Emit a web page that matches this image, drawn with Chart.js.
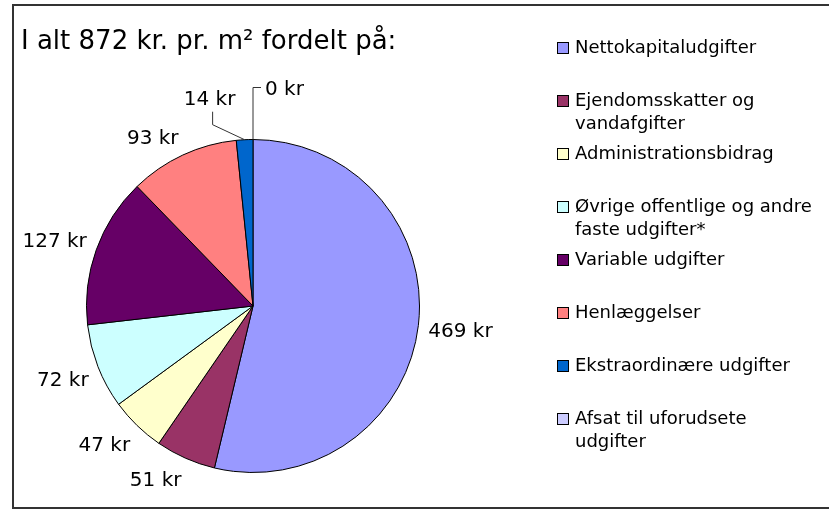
<html>
<head>
<title>Udgifter pr. m2</title>
<script src="https://cdn.jsdelivr.net/npm/chart.js@4.4.1/dist/chart.umd.min.js"></script>
<style>
  body { margin: 0; background: #fff; }
  #wrap { position: relative; width: 829px; height: 512px; }
</style>
</head>
<body>
<div id="wrap"><canvas id="myChart"></canvas></div>
<script>
// data
var titleText = 'I alt 872 kr. pr. m\u00b2 fordelt p\u00e5:';
var categories = [
    'Nettokapitaludgifter',
    ['Ejendomsskatter og', 'vandafgifter'],
    'Administrationsbidrag',
    ['\u00d8vrige offentlige og andre', 'faste udgifter*'],
    'Variable udgifter',
    'Henl\u00e6ggelser',
    'Ekstraordin\u00e6re udgifter',
    ['Afsat til uforudsete', 'udgifter']
];
var values = [469, 51, 47, 72, 127, 93, 14, 0];
var colors = ['#9999FF', '#993366', '#FFFFCC', '#CCFFFF', '#660066', '#FF8080', '#0066CC', '#CCCCFF'];
var unit = ' kr';

var FONT = '"DejaVu Sans", Verdana, sans-serif';

function clamp(t) { return Math.max(-1, Math.min(1, t)); }

// frame, title, legend and value labels
var decor = {
    id: 'decor',
    afterDraw: function(chart, args, opts) {
        var c = chart.ctx;
        c.save();

        // frame (right edge runs off the picture)
        c.strokeStyle = '#333';
        c.lineWidth = 2;
        c.strokeRect(13, 5, 830, 503);

        // title
        c.fillStyle = '#000';
        c.font = '26px ' + FONT;
        c.textBaseline = 'alphabetic';
        c.textAlign = 'left';
        c.fillText(titleText, 21, 49);

        // legend
        c.font = '18px ' + FONT;
        c.textBaseline = 'middle';
        var lx = 557, ly = 48, step = 53;
        for (var i = 0; i < categories.length; i++) {
            var y = Math.round(ly + i * step);
            c.fillStyle = colors[i];
            c.fillRect(lx, y - 6, 12, 12);
            c.strokeStyle = '#000';
            c.lineWidth = 1;
            c.strokeRect(lx + 0.5, y - 5.5, 11, 11);
            c.fillStyle = '#000';
            var lines = [].concat(categories[i]);
            for (var k = 0; k < lines.length; k++) {
                c.fillText(lines[k], 575, y + k * 23);
            }
        }

        // value labels
        var meta = chart.getDatasetMeta(0);
        c.font = '20px ' + FONT;
        c.textAlign = 'center';
        c.strokeStyle = '#333';
        c.lineWidth = 1;
        meta.data.forEach(function(arc, i) {
            var p = arc.getProps(['x', 'y', 'startAngle', 'endAngle', 'outerRadius'], true);
            var mid = (p.startAngle + p.endAngle) / 2;
            var dx = Math.cos(mid), dy = Math.sin(mid);
            var txt = values[i] + unit;
            var w = c.measureText(txt).width, h = 20;
            var lead = opts.leaders[i];
            c.fillStyle = '#000';
            if (lead) {
                var ex = p.x + dx * p.outerRadius, ey = p.y + dy * p.outerRadius;
                var tx, ty = ey + lead.dy;
                c.beginPath();
                if (lead.dx < 0) {
                    tx = ex + lead.dx;
                    c.moveTo(ex, ey);
                    c.lineTo(tx + 3, ey - 15);
                    c.lineTo(tx + 3, ty + 14);
                } else {
                    tx = ex + lead.dx + w / 2;
                    c.moveTo(ex, ey);
                    c.lineTo(ex, ty);
                    c.lineTo(ex + lead.dx - 4, ty);
                }
                c.stroke();
                c.fillText(txt, tx, ty + 2);
            } else {
                var r = p.outerRadius + opts.gap;
                var x = p.x + dx * r + clamp(dx * 2.5) * w / 2;
                var yy = p.y + dy * r + clamp(dy * 2.2) * h / 2 + 3;
                c.fillText(txt, x, yy);
            }
        });
        c.restore();
    }
};

var ctx = document.getElementById('myChart').getContext('2d');
var chart = new Chart(ctx, {
    type: 'pie',
    data: {
        labels: categories,
        datasets: [{
            data: values,
            backgroundColor: colors,
            borderColor: '#000',
            borderWidth: 1
        }]
    },
    options: {
        responsive: true,
        maintainAspectRatio: false,
        animation: false,
        layout: { padding: { left: 86, right: 409, top: 139, bottom: 39 } },
        plugins: {
            legend: { display: false },
            tooltip: { enabled: false },
            decor: { gap: 10, leaders: { 6: { dx: -35, dy: -42 }, 7: { dx: 12, dy: -52 } } }
        }
    },
    plugins: [decor]
});
</script>
</body>
</html>
